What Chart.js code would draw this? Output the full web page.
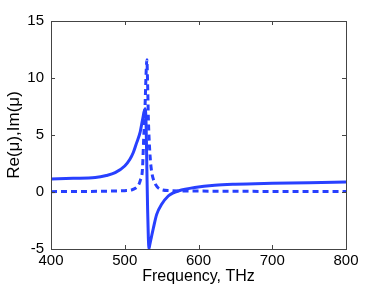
<!DOCTYPE html>
<html><head><meta charset="utf-8">
<script src="https://cdn.jsdelivr.net/npm/chart.js@4/dist/chart.umd.min.js"></script>
<style>html,body{margin:0;padding:0;background:#fff}#wrap{width:382px;height:287px}</style>
</head><body><div id="wrap"><canvas id="c" width="382" height="287"></canvas></div>
<script>
const reFreq = [400,430,460,475,487,500,507,511.6,516.2,520.7,524.3,527.5,528.3,529,530,531,532,532.9,534,536,538.7,543.3,550,559,565,572.6,595,622,650,700,750,800];
const reVals = [1.15,1.2,1.27,1.45,1.7,2.28,2.87,3.46,4.33,5.2,6.4,7.3,7.0,5.8,2.0,-1.5,-4.0,-4.95,-4.6,-4.0,-3.2,-1.96,-1.08,-0.35,-0.1,0.09,0.39,0.59,0.68,0.76,0.82,0.87];
const imFreq = [400,450,480,500,510,515,518,521,524,525.7,527,528,529,530,531,532,533,535,537,540,544,548,560,600,700,800];
const imVals = [0.03,0.05,0.08,0.12,0.2,0.35,0.55,1.0,2.0,4.7,6.5,8.5,10.5,11.6,9.5,6.5,4.7,2.6,1.6,0.9,0.45,0.25,0.12,0.08,0.05,0.04];
const xTicks = [400,500,600,700,800];
const yTicks = [-5,0,5,10,15];

const blue = 'rgb(40,64,255)';
const toPts = (xs, ys) => xs.map((x,i)=>({x:x, y:ys[i]}));
const FONT = 'Liberation Sans, Arial, sans-serif';

const boxPlugin = {
  id:'box',
  afterDraw(chart){
    const {ctx, chartArea:a, scales:{x,y}} = chart;
    ctx.save();
    ctx.strokeStyle = '#444';
    ctx.lineWidth = 1;
    ctx.strokeRect(Math.round(a.left)+0.5, Math.round(a.top)+0.5, Math.round(a.right-a.left), Math.round(a.bottom-a.top));
    ctx.beginPath();
    const L = 4;
    xTicks.forEach(v=>{
      const px = Math.round(x.getPixelForValue(v))+0.5;
      ctx.moveTo(px, a.bottom); ctx.lineTo(px, a.bottom-L);
      ctx.moveTo(px, a.top); ctx.lineTo(px, a.top+L);
    });
    yTicks.forEach(v=>{
      const py = Math.round(y.getPixelForValue(v))+0.5;
      ctx.moveTo(a.left, py); ctx.lineTo(a.left+L, py);
      ctx.moveTo(a.right, py); ctx.lineTo(a.right-L, py);
    });
    ctx.stroke();
    ctx.restore();
  }
};

new Chart(document.getElementById('c'), {
  type:'line',
  data:{datasets:[
    {label:'Re', data:toPts(reFreq, reVals), borderColor:blue, borderWidth:3, pointRadius:0, cubicInterpolationMode:'monotone', fill:false},
    {label:'Im', data:toPts(imFreq, imVals), borderColor:blue, borderWidth:3, borderDash:[6,4], pointRadius:0, cubicInterpolationMode:'monotone', fill:false}
  ]},
  options:{
    responsive:false, animation:false, devicePixelRatio:1,
    layout:{padding:{top:21,right:36,left:0,bottom:0}},
    plugins:{legend:{display:false}, tooltip:{enabled:false}},
    scales:{
      x:{type:'linear', min:400, max:800,
        afterBuildTicks(s){s.ticks = xTicks.map(v=>({value:v}));},
        afterFit(s){s.height = 38;},
        grid:{display:false, drawTicks:false},
        border:{display:false},
        ticks:{color:'#000', padding:3, font:{family:FONT, size:15}, maxRotation:0},
        title:{display:true, text:'Frequency, THz', color:'#000', font:{family:FONT, size:16}, padding:{top:0,bottom:1}}
      },
      y:{type:'linear', min:-5, max:15,
        afterBuildTicks(s){s.ticks = yTicks.map(v=>({value:v}));},
        afterFit(s){s.width = 51;},
        grid:{display:false, drawTicks:false},
        border:{display:false},
        ticks:{color:'#000', padding:7, font:{family:FONT, size:15}},
        title:{display:true, text:'Re(μ),Im(μ)', color:'#000', font:{family:FONT, size:17}, padding:{top:4,bottom:0}}
      }
    }
  },
  plugins:[boxPlugin]
});
</script></body></html>
